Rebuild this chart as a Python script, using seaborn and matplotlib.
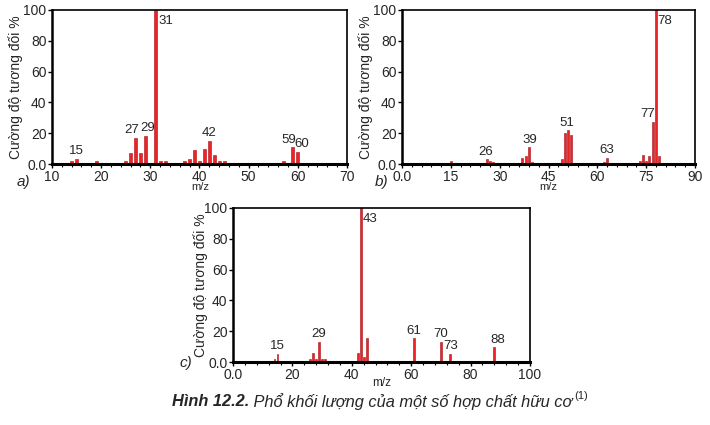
import matplotlib
matplotlib.use("Agg")
import matplotlib.pyplot as plt
import seaborn as sns
import pandas as pd
from matplotlib.ticker import MultipleLocator

sns.set_theme(style="white")
plt.rcParams['font.family'] = ['Liberation Sans', 'DejaVu Sans']

# ---- data: panel a ----
mz_a = [14, 15, 19, 25, 26, 27, 28, 29, 31, 32, 33, 37, 38, 39, 40, 41, 42, 43, 44, 45, 57, 59, 60]
int_a = [2, 3.5, 2, 2, 7, 17, 7, 18.5, 100, 2, 2, 2, 3, 9, 2, 10, 15, 6, 2, 2, 2, 11, 8]
peaks_a = [15, 27, 29, 31, 42, 59, 60]

# ---- data: panel b ----
mz_b = [15, 26, 27, 28, 37, 38, 39, 40, 49, 50, 51, 52, 62, 63, 73, 74, 75, 76, 77, 78, 79]
int_b = [2, 3, 2, 1, 4, 5, 11, 1, 3, 20, 22, 19, 1, 4, 2, 6, 2, 5, 27, 100, 5]
peaks_b = [26, 39, 51, 63, 77, 78]

# ---- data: panel c ----
mz_c = [14, 15, 26, 27, 28, 29, 30, 31, 42, 43, 44, 45, 61, 70, 73, 88]
int_c = [2, 5.5, 2, 6, 2, 13, 2, 2, 6, 100, 3, 15.5, 15.5, 13, 5.5, 9.5]
peaks_c = [15, 29, 43, 61, 70, 73, 88]

xlim_a, xticks_a, xticklabels_a = (10, 70), [10, 20, 30, 40, 50, 60, 70], ["10", "20", "30", "40", "50", "60", "70"]
xlim_b, xticks_b, xticklabels_b = (0, 90), [0, 15, 30, 45, 60, 75, 90], ["0.0", "15", "30", "45", "60", "75", "90"]
xlim_c, xticks_c, xticklabels_c = (0, 100), [0, 20, 40, 60, 80, 100], ["0.0", "20", "40", "60", "80", "100"]
yticks = [0, 20, 40, 60, 80, 100]
yticklabels = ["0.0", "20", "40", "60", "80", "100"]

ylabel = "Cường độ tương đối %"
xlabel = "m/z"
caption_bold = "Hình 12.2."
caption_rest = " Phổ khối lượng của một số hợp chất hữu cơ"

W, H = 710, 425
fig = plt.figure(figsize=(7.1, 4.25), dpi=100)
ax_a = fig.add_axes([0.0732, 0.6141, 0.4155, 0.3624])
ax_b = fig.add_axes([0.5662, 0.6141, 0.4127, 0.3624])
ax_c = fig.add_axes([0.3282, 0.1482, 0.4183, 0.3624])

RED = "#ec2227"
EDGE = "#a80f14"
FS_TICK = 10
FS_PEAK = 9.5

# label placement tweaks (offset in data units: dx, dy, ha)
label_style_a = {27: (-0.8, 1, "center"), 29: (0.5, 1, "center"), 31: (0.6, -3, "left"),
                 59: (-0.9, 1, "center"), 60: (0.9, 1, "center")}
label_style_b = {26: (-0.4, 1, "center"), 39: (0.4, 1, "center"), 51: (-0.3, 1, "center"),
                 77: (-1.6, 1.5, "center"), 78: (0.3, -3, "left")}
label_style_c = {43: (0.5, -3, "left"), 73: (0.4, 1, "center"), 88: (1.2, 1, "center")}


def draw(ax, mz, inten, peaks, xlim, xticks, xtl, minor, styles, ylab_px):
    df = pd.DataFrame({"mz": mz, "intensity": inten})
    sns.barplot(data=df, x="mz", y="intensity", native_scale=True, ax=ax,
                color=RED, edgecolor=EDGE, linewidth=0.4, width=0.6, saturation=1)
    ax.set_xlim(*xlim)
    ax.set_ylim(0, 100)
    ax.set_xticks(xticks)
    ax.set_xticklabels(xtl, fontsize=FS_TICK)
    ax.set_yticks(yticks)
    ax.set_yticklabels(yticklabels, fontsize=FS_TICK)
    ax.xaxis.set_minor_locator(MultipleLocator(minor))
    ax.tick_params(axis="both", which="major", direction="out", length=3, width=1,
                   color="black", pad=1, bottom=True, left=True)
    ax.tick_params(axis="x", which="minor", direction="out", length=2, width=0.8,
                   color="black", bottom=True)
    for s in ["top", "right"]:
        ax.spines[s].set_visible(True)
        ax.spines[s].set_color("black")
        ax.spines[s].set_linewidth(1.2)
    ax.spines["left"].set_color("black")
    ax.spines["left"].set_linewidth(1.8)
    ax.spines["bottom"].set_visible(True)
    ax.spines["bottom"].set_color("black")
    ax.spines["bottom"].set_linewidth(2.2)
    ax.set_xlabel("")
    ax.set_ylabel(ylabel, fontsize=10)
    axw = ax.get_position().width * W
    ax.yaxis.set_label_coords(-ylab_px / axw, 0.5)
    lookup = dict(zip(mz, inten))
    for p in peaks:
        h = lookup[p]
        dx, dy, ha = styles.get(p, (0, 1, "center"))
        if ha == "left":
            ax.text(p + dx, 100 + dy, str(p), fontsize=FS_PEAK, ha="left", va="top")
        else:
            ax.text(p + dx, h + dy, str(p), fontsize=FS_PEAK, ha="center", va="bottom")


draw(ax_a, mz_a, int_a, peaks_a, xlim_a, xticks_a, xticklabels_a, 2, label_style_a, 29)
draw(ax_b, mz_b, int_b, peaks_b, xlim_b, xticks_b, xticklabels_b, 3, label_style_b, 29)
draw(ax_c, mz_c, int_c, peaks_c, xlim_c, xticks_c, xticklabels_c, 4, label_style_c, 25)

# m/z axis labels
fig.text(200 / W, 1 - 187.5 / H, xlabel, fontsize=8, ha="center", va="center")
fig.text(548 / W, 1 - 187.5 / H, xlabel, fontsize=8, ha="center", va="center")
fig.text(382 / W, 1 - 383 / H, xlabel, fontsize=8.5, ha="center", va="center")

# panel letters
fig.text(23 / W, 1 - 182 / H, "a)", fontsize=11, style="italic", ha="center", va="center")
fig.text(382 / W, 1 - 182 / H, "b)", fontsize=11, style="italic", ha="center", va="center")
fig.text(186 / W, 1 - 363 / H, "c)", fontsize=11, style="italic", ha="center", va="center")

# caption
CFS = 11.8
cap = fig.text(172 / W, 1 - 402 / H, caption_bold, fontsize=CFS, style="italic",
               weight="bold", ha="left", va="center")
fig.canvas.draw()
bb = cap.get_window_extent()
cap2 = fig.text(bb.x1 / fig.bbox.width, 1 - 402 / H, caption_rest, fontsize=CFS,
                style="italic", ha="left", va="center")
bb2 = cap2.get_window_extent()
fig.text(bb2.x1 / fig.bbox.width + 0.002, 1 - 396 / H, "(1)", fontsize=8,
         ha="left", va="center")

fig.savefig("out.png", dpi=100)
